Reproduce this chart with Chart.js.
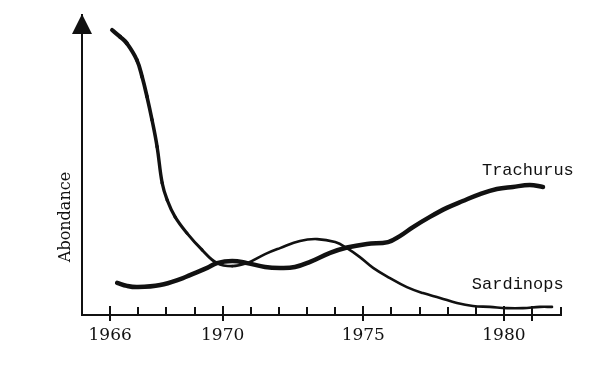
<!DOCTYPE html>
<html lang="fr">
<head>
<meta charset="utf-8">
<title>Sardinops / Trachurus</title>
<script src="https://cdn.jsdelivr.net/npm/chart.js@4.4.1/dist/chart.umd.min.js"></script>
<style>
  body { margin: 0; background: #fff; }
  #grafico { display: block; }
</style>
</head>
<body>
<canvas id="grafico" width="600" height="374"></canvas>
<script>
// Marcas del eje X (una por año) y las que llevan etiqueta
const ANOS_MARCAS = [1966, 1967, 1968, 1969, 1970, 1971, 1972, 1973, 1974, 1975, 1976, 1977, 1978, 1979, 1980, 1981];
const ANOS_ETIQUETA = [1966, 1970, 1975, 1980];
const MARCAS_LARGAS = [1966, 1970, 1975, 1980, 1981];

// Sardinops (abundancia relativa 0-100)
const sardinopsAnos = [1966.07, 1966.36, 1966.59, 1966.95, 1967.14, 1967.31, 1967.49, 1967.67, 1967.85, 1968.03,
  1968.31, 1968.73, 1969.27, 1969.80, 1970.34, 1970.87, 1971.51, 1972.04, 1972.75, 1973.36, 1974.00, 1974.42,
  1974.88, 1975.35, 1975.95, 1976.55, 1977.12, 1977.73, 1978.33, 1978.90, 1979.50, 1980.11, 1980.68, 1981.28, 1981.71];
const sardinopsValores = [95.0, 92.7, 90.6, 85.0, 79.3, 72.8, 65.0, 56.1, 44.0, 38.3,
  32.7, 27.3, 21.7, 17.3, 16.3, 17.3, 20.3, 22.3, 24.7, 25.3, 24.3, 22.3,
  19.3, 15.7, 12.3, 9.3, 7.3, 5.7, 4.0, 3.0, 2.7, 2.3, 2.3, 2.7, 2.7];

// Trachurus
const trachurusAnos = [1966.25, 1966.60, 1966.96, 1967.78, 1968.59, 1968.84, 1969.45, 1969.80, 1970.34, 1970.87,
  1971.51, 1972.04, 1972.57, 1973.11, 1973.82, 1974.42, 1975.13, 1975.88, 1976.30, 1976.77, 1977.37, 1977.97,
  1978.54, 1979.15, 1979.75, 1980.32, 1980.92, 1981.39];
const trachurusValores = [10.7, 9.7, 9.3, 10.0, 12.3, 13.3, 15.7, 17.3, 18.0, 17.3,
  16.0, 15.7, 16.0, 17.7, 20.7, 22.5, 23.7, 24.3, 26.3, 29.3, 32.7, 35.7,
  38.0, 40.3, 42.0, 42.7, 43.3, 42.7];

const TITULO_Y = 'Abondance';
// Donde va el nombre de cada curva (en unidades de los ejes)
const NOMBRE_TRACHURUS = ['Trachurus', 1979.22, 46.7];
const NOMBRE_SARDINOPS = ['Sardinops', 1978.86, 8.6];

const NEGRO = '#111';

function armarPuntos(anos, valores) {
    return anos.map((a, i) => ({ x: a, y: valores[i] }));
}

// Ejes a mano: marcas hacia arriba, flecha, título y nombres
const dibujoPlugin = {
    id: 'dibujo',
    afterDraw(chart) {
        const { ctx, chartArea, scales } = chart;
        const x = scales.x;
        const y = scales.y;
        ctx.save();
        ctx.strokeStyle = NEGRO;
        ctx.fillStyle = NEGRO;
        ctx.lineWidth = 2;

        ANOS_MARCAS.forEach(a => {
            const px = Math.round(x.getPixelForValue(a));
            const larga = MARCAS_LARGAS.includes(a);
            ctx.beginPath();
            ctx.moveTo(px, chartArea.bottom - (larga ? 9 : 8));
            ctx.lineTo(px, chartArea.bottom + (larga ? 6 : 0));
            ctx.stroke();
        });
        // final del eje X
        ctx.beginPath();
        ctx.moveTo(chartArea.right, chartArea.bottom - 8);
        ctx.lineTo(chartArea.right, chartArea.bottom);
        ctx.stroke();

        // flecha del eje Y
        ctx.beginPath();
        ctx.moveTo(chartArea.left, chartArea.top - 1);
        ctx.lineTo(chartArea.left - 10, chartArea.top + 19);
        ctx.lineTo(chartArea.left + 10, chartArea.top + 19);
        ctx.closePath();
        ctx.fill();

        // título del eje Y
        ctx.save();
        ctx.translate(chartArea.left - 16, chartArea.bottom - 98);
        ctx.rotate(-Math.PI / 2);
        ctx.font = '16px "DejaVu Serif"';
        ctx.textAlign = 'center';
        ctx.textBaseline = 'middle';
        ctx.fillText(TITULO_Y, 0, 0);
        ctx.restore();

        // nombres de las curvas
        ctx.font = '17px "Liberation Mono"';
        ctx.textAlign = 'left';
        ctx.textBaseline = 'alphabetic';
        [NOMBRE_TRACHURUS, NOMBRE_SARDINOPS].forEach(([texto, a, v]) => {
            ctx.fillText(texto, x.getPixelForValue(a), y.getPixelForValue(v));
        });
        ctx.restore();
    }
};

const ctx = document.getElementById('grafico').getContext('2d');

new Chart(ctx, {
    type: 'line',
    data: {
        datasets: [
            {
                label: 'Sardinops',
                data: armarPuntos(sardinopsAnos, sardinopsValores),
                borderColor: NEGRO,
                borderWidth: 3,
                segment: {
                    // trazo más grueso arriba, se afina poco a poco
                    borderWidth: c => Math.max(2.6, 4.2 - 0.11 * c.p0DataIndex)
                },
                borderCapStyle: 'round',
                borderJoinStyle: 'round',
                tension: 0.4,
                pointRadius: 0,
                fill: false
            },
            {
                label: 'Trachurus',
                data: armarPuntos(trachurusAnos, trachurusValores),
                borderColor: NEGRO,
                borderWidth: 4.5,
                borderCapStyle: 'round',
                borderJoinStyle: 'round',
                tension: 0.4,
                pointRadius: 0,
                fill: false
            }
        ]
    },
    options: {
        responsive: false,
        animation: false,
        events: [],
        layout: { padding: { top: 15, right: 39, bottom: 0, left: 0 } },
        plugins: {
            legend: { display: false },
            tooltip: { enabled: false }
        },
        scales: {
            x: {
                type: 'linear',
                min: 1965,
                max: 1982.03,
                afterFit: s => { s.height = 59; },
                afterBuildTicks: s => { s.ticks = ANOS_ETIQUETA.map(v => ({ value: v })); },
                ticks: {
                    autoSkip: false,
                    maxRotation: 0,
                    padding: 10,
                    color: NEGRO,
                    font: { family: '"DejaVu Serif"', size: 17 },
                    callback: v => String(v)
                },
                grid: { display: true, drawOnChartArea: false, drawTicks: false },
                border: { display: true, color: NEGRO, width: 2 }
            },
            y: {
                min: 0,
                max: 100,
                afterFit: s => { s.width = 82; },
                ticks: { display: false },
                grid: { display: true, drawOnChartArea: false, drawTicks: false },
                border: { display: true, color: NEGRO, width: 2 }
            }
        }
    },
    plugins: [dibujoPlugin]
});
</script>
</body>
</html>
